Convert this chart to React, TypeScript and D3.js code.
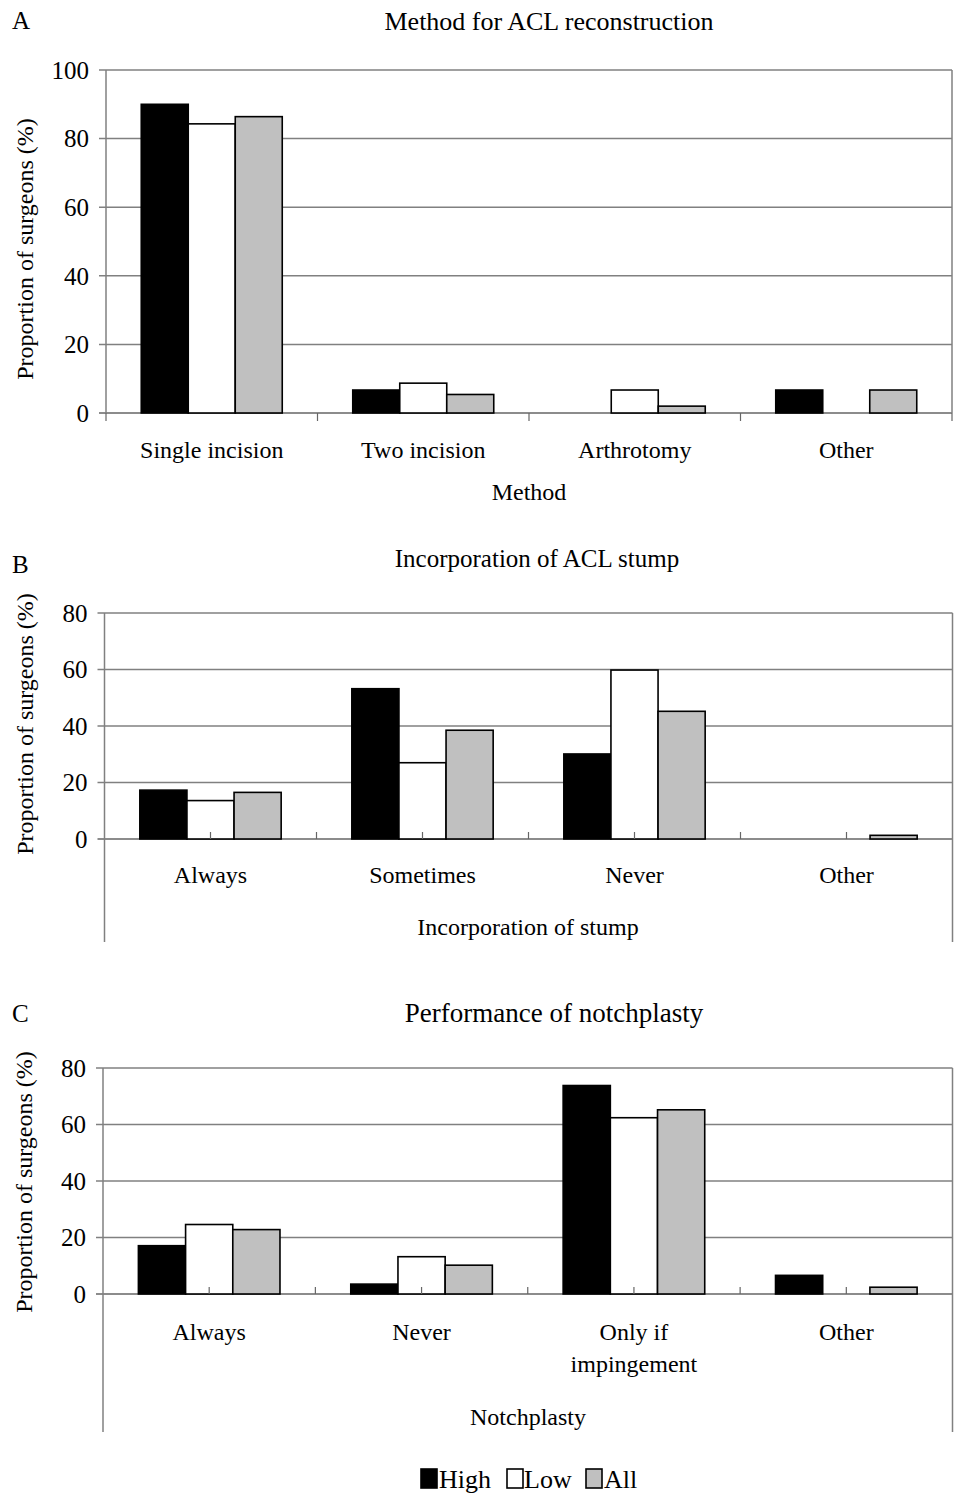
import React from "react";
import * as d3 from "d3";

// chart values (percent of surgeons)
const seriesNames = ["High", "Low", "All"];
const seriesFill = ["#000000", "#ffffff", "#c0c0c0"];

const methodCats = ["Single incision", "Two incision", "Arthrotomy", "Other"];
const methodHigh = [90, 6.7, 0, 6.7];
const methodLow = [84.3, 8.7, 6.7, 0];
const methodAll = [86.4, 5.4, 2.0, 6.7];

const stumpCats = ["Always", "Sometimes", "Never", "Other"];
const stumpHigh = [17.3, 53.2, 30.1, 0];
const stumpLow = [13.6, 27.0, 59.8, 0];
const stumpAll = [16.5, 38.5, 45.2, 1.3];

const notchCats = ["Always", "Never", "Only if\nimpingement", "Other"];
const notchHigh = [17.1, 3.5, 73.8, 6.6];
const notchLow = [24.6, 13.2, 62.4, 0];
const notchAll = [22.8, 10.2, 65.2, 2.4];

const ticksA = [0, 20, 40, 60, 80, 100];
const ticksBC = [0, 20, 40, 60, 80];

const FONT = "'Liberation Serif', 'Times New Roman', serif";
const GRID = "#808080";

function Panel(props) {
  const { cfg } = props;
  const x = d3.scaleBand().domain(cfg.cats).range([cfg.left, cfg.right]);
  const y = d3.scaleLinear().domain([0, cfg.yMax]).range([cfg.zero, cfg.top]);
  const inner = d3
    .scaleBand()
    .domain(seriesNames)
    .range([0, x.bandwidth()])
    .paddingInner(0)
    .paddingOuter(0.75);
  const values = [cfg.high, cfg.low, cfg.all];
  const bw = x.bandwidth();

  // x ticks: A has outward ticks at category edges, B/C inward at half steps
  const xTicks = [];
  if (cfg.outTicks) {
    for (let k = 0; k <= cfg.cats.length; k++) xTicks.push({ x: cfg.left + k * bw, y1: cfg.zero, y2: cfg.zero + 8 });
  } else {
    for (let k = 1; k < cfg.cats.length * 2; k++) xTicks.push({ x: cfg.left + (k * bw) / 2, y1: cfg.zero, y2: cfg.zero - 7 });
  }
  const frameBottom = cfg.frameBottom || cfg.zero;

  return (
    <g fontFamily={FONT} fill="#000">
      <text x={12} y={cfg.letterY} fontSize={25}>{cfg.letter}</text>
      <text x={cfg.titleX} y={cfg.titleY} fontSize={cfg.titleSize} textAnchor="middle">{cfg.title}</text>

      {/* grid lines */}
      {cfg.ticks.map((t) => (
        <line key={"g" + t} x1={cfg.left - 7} x2={t === 0 ? cfg.right : cfg.right} y1={y(t)} y2={y(t)}
          stroke={t === 0 ? "#666" : GRID} strokeWidth={1.5} />
      ))}
      {/* frame */}
      <line x1={cfg.left} x2={cfg.left} y1={cfg.top} y2={frameBottom} stroke={GRID} strokeWidth={1.5} />
      <line x1={cfg.right} x2={cfg.right} y1={cfg.top} y2={frameBottom} stroke={GRID} strokeWidth={1.5} />

      {/* bars */}
      {cfg.cats.map((c, i) =>
        seriesNames.map((s, j) =>
          values[j][i] > 0 ? (
            <rect key={c + s} x={x(c) + inner(s)} y={y(values[j][i])} width={inner.bandwidth()}
              height={cfg.zero - y(values[j][i])} fill={seriesFill[j]} stroke="#000" strokeWidth={1.6} />
          ) : null
        )
      )}

      {xTicks.map((t, i) => (
        <line key={"xt" + i} x1={t.x} x2={t.x} y1={t.y1} y2={t.y2} stroke="#666" strokeWidth={1.2} />
      ))}

      {/* y tick labels */}
      {cfg.ticks.map((t) => (
        <text key={"yl" + t} x={cfg.left - 17} y={y(t)} dy="0.35em" textAnchor="end" fontSize={25}>{t}</text>
      ))}
      <text transform={`translate(${cfg.yLabelX},${cfg.yLabelY}) rotate(-90)`} textAnchor="middle" fontSize={24}>
        Proportion of surgeons (%)
      </text>

      {/* category labels */}
      {cfg.cats.map((c) => (
        <text key={"cl" + c} x={x(c) + bw / 2} y={cfg.catY} textAnchor="middle" fontSize={24}>
          {c.split("\n").map((ln, k) => (
            <tspan key={k} x={x(c) + bw / 2} dy={k === 0 ? 0 : 32}>{ln}</tspan>
          ))}
        </text>
      ))}
      <text x={cfg.xTitleX} y={cfg.xTitleY} textAnchor="middle" fontSize={24}>{cfg.xTitle}</text>
    </g>
  );
}

const panels = [
  {
    letter: "A", letterY: 29, title: "Method for ACL reconstruction", titleX: 549, titleY: 30, titleSize: 26,
    cats: methodCats, high: methodHigh, low: methodLow, all: methodAll, ticks: ticksA, yMax: 100,
    left: 106, right: 952, top: 70, zero: 413, outTicks: true,
    yLabelX: 33, yLabelY: 249, catY: 458, xTitle: "Method", xTitleX: 529, xTitleY: 500,
  },
  {
    letter: "B", letterY: 573, title: "Incorporation of ACL stump", titleX: 537, titleY: 567, titleSize: 25,
    cats: stumpCats, high: stumpHigh, low: stumpLow, all: stumpAll, ticks: ticksBC, yMax: 80,
    left: 104.5, right: 952.5, top: 613, zero: 839, frameBottom: 942, outTicks: false,
    yLabelX: 33, yLabelY: 724, catY: 883, xTitle: "Incorporation of stump", xTitleX: 528, xTitleY: 935,
  },
  {
    letter: "C", letterY: 1022, title: "Performance of notchplasty", titleX: 554, titleY: 1022, titleSize: 27,
    cats: notchCats, high: notchHigh, low: notchLow, all: notchAll, ticks: ticksBC, yMax: 80,
    left: 103, right: 952.5, top: 1068, zero: 1294, frameBottom: 1432, outTicks: false,
    yLabelX: 32, yLabelY: 1182, catY: 1340, xTitle: "Notchplasty", xTitleX: 528, xTitleY: 1425,
  },
];

const legendItems = [
  { name: "High", sx: 421, tx: 439 },
  { name: "Low", sx: 507, tx: 524 },
  { name: "All", sx: 586, tx: 604 },
];

export default function App() {
  return (
    <svg width={958} height={1493} style={{ position: "absolute", left: 0, top: 0, background: "#fff" }}>
      <rect width={958} height={1493} fill="#fff" />
      {panels.map((p) => (
        <Panel key={p.letter} cfg={p} />
      ))}
      <g fontFamily={FONT}>
        {legendItems.map((d, i) => (
          <g key={d.name}>
            <rect x={d.sx} y={1469} width={16} height={19} fill={seriesFill[i]} stroke="#000" strokeWidth={1.6} />
            <text x={d.tx} y={1488} fontSize={26}>{d.name}</text>
          </g>
        ))}
      </g>
    </svg>
  );
}
